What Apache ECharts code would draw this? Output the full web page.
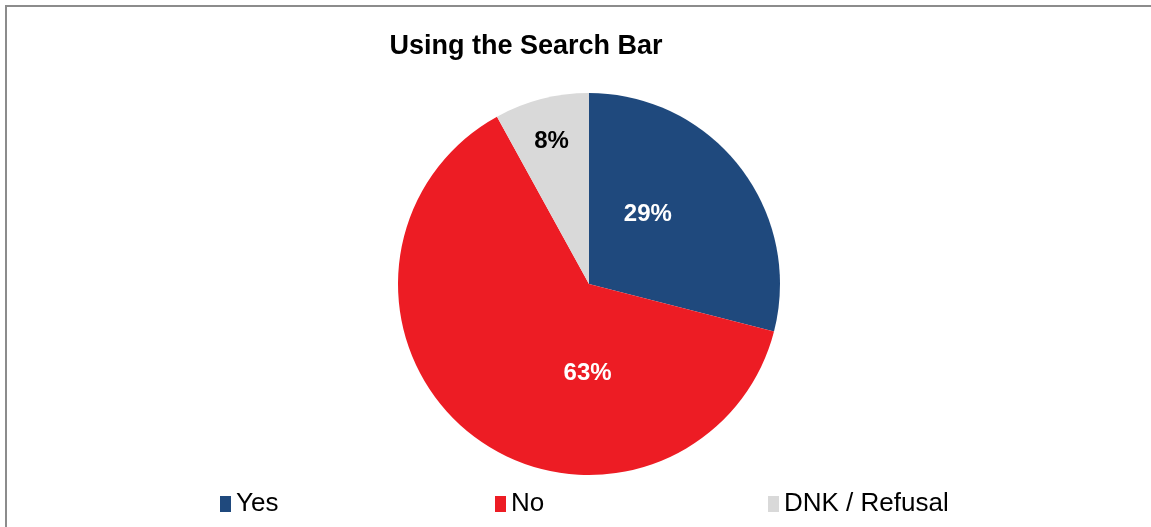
<!DOCTYPE html>
<html>
<head>
<meta charset="utf-8">
<script src="https://cdn.jsdelivr.net/npm/echarts@6/dist/echarts.min.js"></script>
<style>html,body{margin:0;padding:0;background:#fff}#c{width:1151px;height:527px}</style>
</head>
<body>
<div id="c"></div>
<script>
const titleText = "Using the Search Bar";
const categories = ["Yes", "No", "DNK / Refusal"];
const values = [29, 63, 8];
const colors = ["#1F497D", "#ED1C24", "#D9D9D9"];
const labelColors = ["#ffffff", "#ffffff", "#000000"];
const labelOffsets = [[-19, -9], [59, 12], [-13, -47]];
const legendLefts = [220, 495, 768];

const chart = echarts.init(document.getElementById('c'));
const font = "'Liberation Sans', Arial, sans-serif";
chart.setOption({
  animation: false,
  backgroundColor: '#ffffff',
  title: {
    text: titleText,
    left: 521, top: 28, textAlign: 'center',
    textStyle: { fontFamily: font, fontWeight: 'bold', fontSize: 27, color: '#000' }
  },
  graphic: [{
    type: 'polyline',
    shape: { points: [[6, 540], [6, 6], [1160, 6]] },
    style: { stroke: '#8c8c8c', lineWidth: 2, fill: null },
    silent: true
  }],
  legend: categories.map((c, i) => ({
    data: [c],
    left: legendLefts[i], top: 491, padding: 0,
    itemWidth: 11, itemHeight: 16, itemGap: 4,
    icon: 'rect',
    textStyle: { fontFamily: font, fontSize: 26, color: '#000', padding: [0, 0, 0, 0] },
    selectedMode: false
  })),
  series: [{
    type: 'pie',
    center: [589, 284],
    radius: [0, 191],
    startAngle: 90,
    clockwise: true,
    avoidLabelOverlap: false,
    itemStyle: { borderColor: '#ffffff', borderWidth: 0 },
    label: {
      show: true, position: 'inside',
      formatter: '{c}%',
      fontFamily: font, fontWeight: 'bold', fontSize: 24
    },
    labelLine: { show: false },
    emphasis: { disabled: true },
    data: categories.map((c, i) => ({
      name: c, value: values[i],
      itemStyle: { color: colors[i] },
      label: { color: labelColors[i], offset: labelOffsets[i] }
    }))
  }]
});
</script>
</body>
</html>
